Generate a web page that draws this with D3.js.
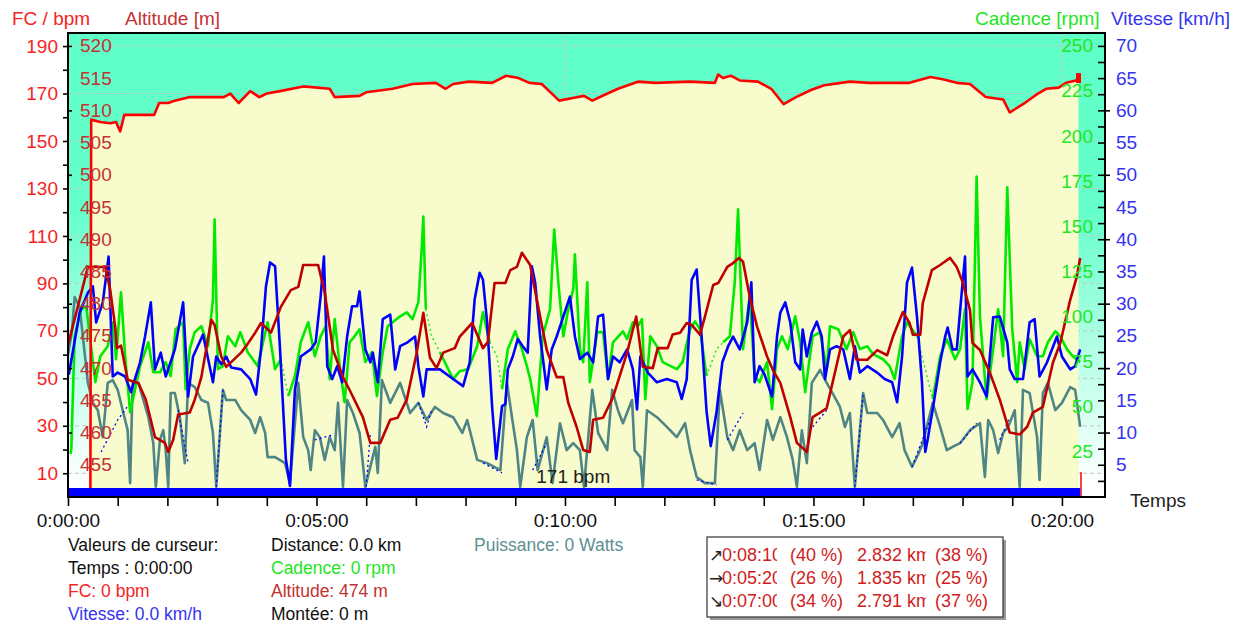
<!DOCTYPE html>
<html>
<head>
<meta charset="utf-8">
<script src="https://cdn.jsdelivr.net/npm/d3@7"></script>
<style>
  html, body { margin: 0; padding: 0; background: #ffffff; }
  svg { display: block; font-family: "Liberation Sans", Arial, Helvetica, sans-serif; }
</style>
</head>
<body>
<svg id="chart" width="1243" height="624"></svg>
<script>
// ---- Recorded session: [seconds, value] ----
const heartRate = [[27,0],[28,159],[39,158],[51,157.5],[58,158],[63,154],[68,161],[104,161],[110,166],[121,166],[129,167],[147,168.5],[188,168.5],[196,170],[206,166],[220,171],[231,168.5],[240,170],[256,171],[284,173],[316,172],[322,168.5],[352,169],[360,170.5],[392,172],[416,174],[444,174.5],[456,172],[465,174],[484,175],[512,174.5],[529,177.5],[544,176.5],[557,174.5],[572,174],[593,167],[608,168],[623,169],[633,167],[648,169.5],[664,172],[688,175],[709,174.5],[751,175],[781,174.5],[785,178],[791,176.5],[800,177.5],[811,175.5],[833,175],[849,172],[864,165.5],[879,168.5],[897,171.5],[913,173.5],[944,175],[968,174.5],[1016,174.5],[1041,177],[1056,176],[1073,174.5],[1089,174],[1108,168.5],[1129,167.5],[1137,162],[1153,165.5],[1169,169.5],[1181,172],[1196,172.5],[1205,174.5],[1217,175.5],[1220,176.5]];

const altitude = [[0,473.6],[14,480.6],[24,485.7],[45,485.7],[51,482.1],[57,476.4],[59,473.1],[64,473.5],[72,468.2],[85,467.7],[94,465.1],[105,459.3],[117,458.4],[121,457],[127,458.9],[133,462.8],[147,463.1],[153,465.1],[161,468.6],[173,477.5],[177,476.7],[185,471.8],[191,470.2],[209,472.4],[216,473.6],[226,475.5],[233,477],[245,475.5],[257,479.5],[269,482.1],[278,482.6],[284,486],[302,486],[310,481.7],[320,472.8],[332,468.6],[340,466.6],[356,462.4],[365,458.4],[377,458.4],[389,462],[398,462.3],[409,465.1],[421,472.4],[429,478.6],[437,471.6],[445,470],[453,472.4],[467,473.1],[473,474.9],[488,477],[501,473.1],[507,474.1],[515,483.2],[528,483.2],[534,485.2],[542,485.7],[548,487.9],[558,486],[566,480.6],[578,472.8],[590,468.6],[598,468.6],[604,464.6],[614,460.9],[622,457.3],[630,457],[634,462],[646,462.3],[658,465.5],[675,472.4],[686,478],[694,470.2],[706,470],[712,473.1],[724,473.1],[730,475.2],[739,475.5],[747,477],[753,476.7],[763,475.2],[769,478],[779,482.9],[785,483.2],[796,485.7],[803,486.3],[810,487.1],[815,486.5],[823,481.1],[832,476.4],[844,471.8],[851,469.7],[860,467.7],[872,462.4],[880,458.4],[892,457],[899,462.4],[908,463.1],[916,463.8],[923,467.7],[936,474.9],[944,475.9],[952,471.3],[965,471.3],[977,472.8],[989,472],[996,474.9],[1008,478.7],[1016,477],[1020,475.2],[1029,475.2],[1032,480.1],[1043,485.2],[1053,486],[1065,487.1],[1073,485.7],[1080,483.4],[1089,479],[1092,473.9],[1101,472.8],[1113,469.3],[1125,465.1],[1137,460],[1149,459.7],[1158,460.9],[1165,463.1],[1177,464],[1189,470.8],[1198,473.9],[1210,480.6],[1218,484.2],[1222,487.1]];

const cadence = [[3,24],[4,26.5],[8,89],[16,104],[22,105.6],[33,63.6],[39,78],[48,83.5],[54,96.8],[58,76.3],[64,113.4],[69,78],[75,47],[81,59.7],[87,72.5],[97,85.7],[103,69.1],[111,69.1],[118,74.7],[124,67],[130,93],[139,96.8],[142,59.7],[147,81.9],[153,91.3],[161,94.6],[169,83.5],[175,109.5],[177,153.8],[181,70.8],[187,72.5],[193,89],[202,83.5],[208,91.3],[217,80.2],[229,72.5],[241,96.8],[250,70.8],[257,76.3],[266,55.9],[274,67],[281,85.7],[290,96.8],[298,78],[305,89],[311,94.6],[316,65.3],[322,98.5],[328,72.5],[334,52.5],[340,85.7],[346,89],[352,92.9],[359,74.7],[367,80.2],[373,55.9],[380,80.2],[386,94.6],[401,100.1],[409,102.3],[416,98.5],[423,107.9],[427,137],[429,155.4],[432,104],[439,89],[449,80.2],[465,65.3],[473,69.7],[483,70.8],[494,83.5],[501,102.3],[509,85.7],[518,78],[524,59.7],[531,81.9],[540,91.8],[548,81.9],[554,72.5],[558,65.3],[566,44.8],[573,89],[582,104],[587,148.2],[592,118.9],[598,89],[604,104],[610,115],[612,134.4],[618,81.9],[622,74.7],[627,118.9],[630,63.6],[639,91.3],[646,91.3],[652,65.3],[658,85.7],[670,91.8],[675,87.4],[682,96.8],[688,94.6],[693,98.5],[697,54.2],[703,89],[711,83.5],[718,74.7],[735,70.8],[742,74.7],[751,92.9],[757,97.3],[763,92.9],[771,67],[783,81.9],[791,85.7],[799,89],[805,118.9],[809,159.3],[815,81.9],[823,111.2],[829,67],[835,63.6],[844,74.7],[850,48.7],[856,81.9],[862,89],[869,81.9],[878,100.1],[884,85.7],[890,58.1],[899,89],[908,91.3],[916,70.8],[920,94.6],[930,92.9],[940,81.9],[948,91.3],[956,81.9],[965,83.5],[972,79.1],[984,76.3],[992,72.5],[998,65.3],[1007,89],[1013,96.8],[1025,89],[1044,54.2],[1053,78],[1061,87.4],[1071,76.3],[1077,81.9],[1083,104],[1086,48.7],[1092,63.6],[1097,177.5],[1101,100.1],[1109,54.2],[1117,81.9],[1123,104],[1129,78],[1134,171.5],[1140,92.9],[1146,63.6],[1149,85.7],[1155,70.8],[1161,87.4],[1170,78],[1177,78],[1183,85.7],[1192,91.8],[1198,89],[1206,81.9],[1213,78],[1222,74.7]];

// cadence sensor dropouts, drawn as a thin dotted trace
const cadenceDropouts = [[257,266],[432,449],[509,524],[771,791],[1025,1044]];

const speed = [[1,19],[14,28.6],[24,31.7],[30,32.7],[34,27.1],[42,30.2],[49,37.3],[54,18.7],[60,19.3],[69,18.7],[76,16.3],[87,20.9],[93,24.9],[100,30.2],[105,19.8],[112,22.4],[118,18.7],[129,22.9],[139,30.2],[145,15.6],[151,21.8],[163,25.2],[171,20.3],[175,17.8],[179,21.8],[185,20.6],[191,21.8],[197,20.1],[209,19.8],[220,18.3],[227,15.9],[233,22.9],[239,32.7],[244,36.4],[250,35.8],[256,22.9],[263,5.9],[268,1.7],[274,16.7],[281,21.8],[293,22.9],[299,24],[305,31.1],[309,37.3],[313,20.3],[319,18.3],[325,20.3],[331,17.8],[337,24.9],[343,29.6],[349,29.6],[352,31.9],[359,22.9],[365,20.9],[368,22.4],[374,17.8],[380,27.6],[389,28.3],[395,19.8],[401,23.4],[410,24],[419,24.9],[423,20.3],[429,15.6],[433,19.8],[449,19.8],[465,18.3],[477,17.2],[485,20.9],[491,30.7],[497,34.8],[501,33.7],[506,27.1],[512,14.1],[517,5.9],[524,14.1],[528,14.4],[531,19.8],[537,21.8],[543,24.5],[549,23.4],[555,22.4],[560,35.8],[564,33.3],[570,24.9],[578,16.7],[584,22.9],[590,24.9],[598,28],[606,31.1],[612,24.9],[618,21.4],[627,22.4],[634,20.9],[640,28],[646,28.3],[652,18.3],[658,21.8],[666,20.9],[675,22.9],[682,19.8],[687,13.6],[691,21.8],[700,19.3],[711,17.8],[723,18.3],[735,17.8],[741,15.2],[747,18.3],[753,33.7],[759,35.3],[765,24.9],[771,13.2],[776,7.9],[783,13.2],[790,20.9],[797,23.4],[803,24.9],[811,22.9],[820,27.1],[825,33.3],[829,17.8],[835,20.3],[841,19],[850,15.6],[856,24.9],[860,28.6],[866,30.2],[872,27.1],[878,20.9],[884,19.8],[887,26],[892,21.8],[898,25.5],[904,27.2],[910,24.9],[914,18.3],[920,22.9],[928,23.4],[936,22.9],[944,18.3],[950,23.4],[956,19.3],[965,20.3],[977,19.3],[986,18.3],[995,17.8],[1001,14.7],[1007,21.8],[1013,33.3],[1019,35.6],[1025,28],[1031,17.8],[1035,7],[1038,9],[1044,13.6],[1053,20.9],[1059,24.9],[1062,26.3],[1068,22.9],[1073,22.9],[1079,31.7],[1083,37.3],[1086,18.7],[1092,19.8],[1101,17.8],[1109,15.6],[1117,27.9],[1125,28],[1134,24],[1137,19.8],[1143,18.3],[1153,18.3],[1161,27.1],[1167,27.6],[1173,18.7],[1182,20.9],[1194,24.9],[1200,21.8],[1210,19.8],[1216,20.3],[1222,22.9]];

const power = [[0,306],[5,360],[8,431],[14,409],[18,345],[24,246],[30,203],[36,187],[42,129],[48,246],[54,252],[60,231],[66,187],[72,144],[75,30],[78,246],[85,246],[97,172],[103,116],[106,22],[111,123],[115,144],[118,101],[121,22],[124,224],[129,224],[135,172],[141,73],[145,246],[153,237],[161,209],[169,203],[175,138],[179,22],[187,231],[191,209],[202,209],[209,187],[220,166],[226,138],[232,172],[238,138],[241,86],[250,86],[262,73],[268,30],[278,246],[284,129],[290,101],[293,58],[298,144],[304,129],[310,80],[316,129],[322,101],[326,203],[332,22],[337,209],[344,181],[352,138],[359,22],[371,108],[374,52],[379,252],[389,203],[401,246],[413,181],[423,203],[433,166],[443,194],[453,181],[465,172],[476,138],[482,166],[494,80],[506,73],[522,58],[525,129],[530,246],[536,172],[542,101],[546,22],[554,129],[561,166],[567,58],[578,129],[585,30],[594,159],[602,101],[610,116],[618,101],[623,22],[633,231],[640,138],[651,101],[657,231],[664,187],[670,159],[681,209],[684,101],[691,86],[694,22],[699,187],[711,172],[723,151],[735,129],[745,159],[751,101],[759,43],[769,30],[781,30],[787,231],[796,129],[803,101],[811,144],[820,101],[829,116],[835,58],[844,166],[851,123],[860,172],[868,129],[875,80],[880,22],[886,144],[892,73],[898,246],[908,274],[916,246],[923,224],[932,194],[938,151],[944,181],[950,22],[960,224],[965,181],[977,181],[984,166],[995,129],[1004,159],[1010,101],[1019,65],[1026,90],[1032,116],[1044,203],[1053,151],[1061,101],[1068,108],[1077,116],[1089,144],[1101,159],[1107,43],[1111,166],[1117,144],[1123,95],[1129,138],[1135,151],[1143,187],[1149,22],[1153,231],[1161,224],[1170,129],[1173,37],[1177,224],[1183,246],[1192,187],[1200,203],[1210,237],[1216,231],[1222,151]];

// power estimated across sensor dropouts (dotted)
const powerEstimated = [
  [[40,97],[60,166],[75,203]],
  [[133,187],[145,73]],
  [[179,22],[187,231]],
  [[298,123],[320,134]],
  [[360,22],[365,138]],
  [[423,203],[433,151],[439,187]],
  [[501,73],[524,52]],
  [[561,58],[578,116]],
  [[759,37],[783,26]],
  [[796,123],[815,181]],
  [[899,151],[916,187]],
  [[950,22],[960,224]],
  [[1019,65],[1044,181]],
  [[1077,116],[1097,159]],
  [[1125,123],[1137,172]]
];

// selected lap range (s) and the end-of-recording marker
const lapRange = [0, 1222];
const endMarker = [[1223, 10.5]];
const averageHeartRate = 171;

// axis tick values
const fcLabels = d3.range(10, 191, 20);
const altLabels = d3.range(455, 521, 5);
const cadLabels = d3.range(25, 251, 25);
const speedLabels = d3.range(5, 71, 5);
const timeLabels = d3.range(0, 1201, 300);

// cursor readout
const cursorCol1 = ["Valeurs de curseur:", "Temps : 0:00:00", "FC: 0 bpm", "Vitesse: 0.0 km/h"];
const cursorCol2 = ["Distance: 0.0 km", "Cadence: 0 rpm", "Altitude: 474 m", "Montée: 0 m"];
const cursorCol3 = ["Puissance: 0 Watts"];

// climbing / flat / descending breakdown
const slopeArrows = ["\u2197", "\u2192", "\u2198"];
const slopeSeconds = [490, 320, 420];
const slopeTimePct = [40, 26, 34];
const slopeKm = [2.832, 1.835, 2.791];
const slopeKmPct = [38, 25, 37];

// ---- colours ----
const C = {
  fc: "#ff0000", fcText: "#f42424",
  alt: "#c00000", altText: "#c23232",
  cad: "#00ea00", cadText: "#22e622",
  spd: "#0000ff", spdText: "#3434f0",
  pow: "#4f8585", powText: "#5c9090",
  sky: "#60ffc8", fill: "#f8fccc", grid: "#c4c4c4"
};

const svg = d3.select("#chart");
const P = { left: 68, right: 1105, top: 33, bottom: 497 };

const x = d3.scaleLinear([0, 1252], [P.left, P.right]);
const yFc = d3.scaleLinear([0, 195.5], [P.bottom, P.top]);
const yAlt = d3.scaleLinear([450, 522], [P.bottom, P.top]);
const yCad = d3.scaleLinear([0, 257], [P.bottom, P.top]);
const ySpd = d3.scaleLinear([0, 72], [P.bottom, P.top]);
const yPow = d3.scaleLinear([0, 1000], [P.bottom, P.top]);

const fmtTime = s => {
  const h = Math.floor(s / 3600), m = Math.floor(s / 60) % 60, ss = Math.round(s % 60);
  return `${h}:${String(m).padStart(2, "0")}:${String(ss).padStart(2, "0")}`;
};

const defs = svg.append("defs");
const grad = defs.append("linearGradient").attr("id", "sky").attr("x1", 0).attr("y1", 0).attr("x2", 0).attr("y2", 1);
grad.append("stop").attr("offset", "0%").attr("stop-color", C.sky);
grad.append("stop").attr("offset", "38%").attr("stop-color", "#64ffca");
grad.append("stop").attr("offset", "97%").attr("stop-color", "#ffffff");
defs.append("clipPath").attr("id", "plotClip").append("rect")
  .attr("x", P.left).attr("y", P.top).attr("width", P.right - P.left).attr("height", P.bottom - P.top);

// background
svg.append("rect").attr("x", P.left).attr("y", P.top).attr("width", P.right - P.left)
  .attr("height", P.bottom - P.top).attr("fill", "url(#sky)");

const plot = svg.append("g").attr("clip-path", "url(#plotClip)");

// grid
plot.append("g").selectAll("line").data(fcLabels).join("line")
  .attr("x1", P.left).attr("x2", P.right).attr("y1", d => yFc(d)).attr("y2", d => yFc(d))
  .attr("stroke", C.grid).attr("stroke-dasharray", "4,3");
plot.append("g").selectAll("line").data([600, 1200]).join("line")
  .attr("x1", d => x(d)).attr("x2", d => x(d)).attr("y1", P.top).attr("y2", P.bottom)
  .attr("stroke", C.grid).attr("stroke-dasharray", "4,3");

// heart-rate area
plot.append("path").datum(heartRate)
  .attr("d", d3.area().x(d => x(d[0])).y0(yFc(0)).y1(d => yFc(d[1])))
  .attr("fill", C.fill);

function splitByGaps(points, gaps) {
  const solid = [], dotted = [];
  let cur = null, curType = null;
  for (let i = 0; i < points.length - 1; i++) {
    const a = points[i], b = points[i + 1];
    const inGap = gaps.some(([s, e]) => a[0] >= s && b[0] <= e);
    const type = inGap ? "dotted" : "solid";
    if (type !== curType) { cur = [a]; (inGap ? dotted : solid).push(cur); curType = type; }
    cur.push(b);
  }
  return { solid, dotted };
}

const lineOf = y => d3.line().x(d => x(d[0])).y(d => y(d[1]));

// power
plot.append("path").datum(power).attr("d", lineOf(yPow))
  .attr("fill", "none").attr("stroke", C.pow).attr("stroke-width", 2.6).attr("stroke-linejoin", "round");
plot.append("g").selectAll("path").data(powerEstimated).join("path")
  .attr("d", lineOf(yPow)).attr("fill", "none").attr("stroke", C.spd)
  .attr("stroke-width", 1.3).attr("stroke-dasharray", "2,3");

// cadence
const cadParts = splitByGaps(cadence, cadenceDropouts);
plot.append("g").selectAll("path").data(cadParts.solid).join("path")
  .attr("d", lineOf(yCad)).attr("fill", "none").attr("stroke", C.cad)
  .attr("stroke-width", 2.6).attr("stroke-linejoin", "round");
plot.append("g").selectAll("path").data(cadParts.dotted).join("path")
  .attr("d", lineOf(yCad)).attr("fill", "none").attr("stroke", C.cad)
  .attr("stroke-width", 1.3).attr("stroke-dasharray", "2,3");

// speed
plot.append("path").datum(speed).attr("d", lineOf(ySpd))
  .attr("fill", "none").attr("stroke", C.spd).attr("stroke-width", 2.6).attr("stroke-linejoin", "round");

// altitude
plot.append("path").datum(altitude).attr("d", lineOf(yAlt))
  .attr("fill", "none").attr("stroke", C.alt).attr("stroke-width", 2.6).attr("stroke-linejoin", "round");

// heart rate
plot.append("path").datum(heartRate).attr("d", lineOf(yFc))
  .attr("fill", "none").attr("stroke", C.fc).attr("stroke-width", 2.6).attr("stroke-linejoin", "round");
const last = heartRate[heartRate.length - 1];
plot.append("rect").attr("x", x(last[0]) - 2.5).attr("y", yFc(last[1]) - 5)
  .attr("width", 5).attr("height", 10).attr("fill", C.fc);
plot.append("g").selectAll("line").data(endMarker).join("line")
  .attr("x1", d => x(d[0])).attr("x2", d => x(d[0])).attr("y1", yFc(0)).attr("y2", d => yFc(d[1]))
  .attr("stroke", C.fc).attr("stroke-width", 1.5);

// lap bar
plot.append("rect").attr("x", x(lapRange[0])).attr("y", P.bottom - 9)
  .attr("width", x(lapRange[1]) - x(lapRange[0])).attr("height", 8).attr("fill", C.spd);

// average heart-rate caption
svg.append("text").attr("x", x(610)).attr("y", 483).attr("text-anchor", "middle")
  .attr("font-size", 19).attr("fill", "#222").text(`${averageHeartRate} bpm`);

// frame
svg.append("rect").attr("x", P.left).attr("y", P.top).attr("width", P.right - P.left)
  .attr("height", P.bottom - P.top).attr("fill", "none").attr("stroke", "#000").attr("stroke-width", 2);

function styleAxis(g, color, size) {
  g.attr("font-family", null).attr("font-size", null);
  g.select(".domain").remove();
  g.selectAll(".tick line").attr("stroke", "#000").attr("stroke-width", 1.6);
  g.selectAll(".tick text").attr("fill", color).style("font-size", size + "px");
}

// left: heart rate
svg.append("g").attr("transform", `translate(${P.left},0)`)
  .call(d3.axisLeft(yFc).tickValues(d3.range(10, 191, 10)).tickSize(5).tickPadding(5)
    .tickFormat(d => (d % 20 === 10 ? d : "")))
  .call(g => styleAxis(g, C.fcText, 19));
// left: altitude ticks and labels inside the frame
svg.append("g").attr("transform", `translate(${P.left},0)`)
  .call(d3.axisRight(yAlt).tickValues(d3.range(460, 521, 10)).tickSize(4).tickFormat(""))
  .call(g => styleAxis(g, C.altText, 19));
svg.append("g").attr("transform", `translate(${P.left},0)`)
  .call(d3.axisRight(yAlt).tickValues(altLabels).tickSize(0).tickPadding(12))
  .call(g => styleAxis(g, C.altText, 19));

// right: speed ticks, labels outside; cadence labels inside
svg.append("g").attr("transform", `translate(${P.right},0)`)
  .call(d3.axisLeft(ySpd).tickValues(d3.range(2.5, 71, 2.5)).tickSize(7).tickFormat(""))
  .call(g => styleAxis(g, C.spdText, 19));
svg.append("g").attr("transform", `translate(${P.right},0)`)
  .call(d3.axisRight(ySpd).tickValues(d3.range(10, 61, 10)).tickSize(5).tickFormat(""))
  .call(g => styleAxis(g, C.spdText, 19));
svg.append("g").attr("transform", `translate(${P.right},0)`)
  .call(d3.axisRight(ySpd).tickValues(speedLabels).tickSize(0).tickPadding(11))
  .call(g => styleAxis(g, C.spdText, 19));
svg.append("g").attr("transform", `translate(${P.right},0)`)
  .call(d3.axisLeft(yCad).tickValues(cadLabels).tickSize(0).tickPadding(12))
  .call(g => styleAxis(g, C.cadText, 19));

// bottom: time
svg.append("g").attr("transform", `translate(0,${P.bottom})`)
  .call(d3.axisBottom(x).tickValues(d3.range(0, 1252, 60)).tickSize(9).tickPadding(8)
    .tickFormat(d => (timeLabels.includes(d) ? fmtTime(d) : "")))
  .call(g => styleAxis(g, "#111", 19));
svg.append("text").attr("x", 1130).attr("y", 507).attr("font-size", 19).attr("fill", "#222").text("Temps");

// axis titles
const titles = [
  { t: "FC / bpm", x: 12, c: C.fcText },
  { t: "Altitude [m]", x: 125, c: C.altText },
  { t: "Cadence [rpm]", x: 975, c: C.cadText },
  { t: "Vitesse [km/h]", x: 1111, c: C.spdText }
];
svg.append("g").selectAll("text").data(titles).join("text")
  .attr("x", d => d.x).attr("y", 25).attr("font-size", 19).attr("fill", d => d.c).text(d => d.t);

// cursor readout
const col1Colors = ["#111", "#111", C.fcText, C.spdText];
const col2Colors = ["#111", C.cadText, C.altText, "#111"];
const rowY = i => 551 + i * 23;
svg.append("g").selectAll("text").data(cursorCol1).join("text")
  .attr("x", 68).attr("y", (d, i) => rowY(i)).attr("font-size", 17.5)
  .attr("fill", (d, i) => col1Colors[i]).text(d => d);
svg.append("g").selectAll("text").data(cursorCol2).join("text")
  .attr("x", 271).attr("y", (d, i) => rowY(i)).attr("font-size", 17.5)
  .attr("fill", (d, i) => col2Colors[i]).text(d => d);
svg.append("g").selectAll("text").data(cursorCol3).join("text")
  .attr("x", 474).attr("y", (d, i) => rowY(i)).attr("font-size", 17.5)
  .attr("fill", C.powText).text(d => d);

// slope breakdown box
const box = { x: 707, y: 537, w: 296, h: 80 };
svg.append("rect").attr("x", box.x + 3).attr("y", box.y + 3).attr("width", box.w).attr("height", box.h).attr("fill", "#9a9a9a");
svg.append("rect").attr("x", box.x).attr("y", box.y).attr("width", box.w).attr("height", box.h)
  .attr("fill", "#fff").attr("stroke", "#333").attr("stroke-width", 1.2);
const cols = [
  { x: 722, w: 55, text: i => fmtTime(slopeSeconds[i]) },
  { x: 790, w: 62, text: i => `(${slopeTimePct[i]} %)` },
  { x: 857, w: 69, text: i => `${slopeKm[i].toFixed(3)} km` },
  { x: 935, w: 62, text: i => `(${slopeKmPct[i]} %)` }
];
cols.forEach((c, ci) => {
  defs.append("clipPath").attr("id", "col" + ci).append("rect")
    .attr("x", c.x).attr("y", box.y).attr("width", c.w).attr("height", box.h);
});
slopeArrows.forEach((a, i) => {
  const yb = 561 + i * 23;
  svg.append("text").attr("x", 709).attr("y", yb).attr("font-size", 17).attr("fill", "#222")
    .attr("font-family", "DejaVu Sans, sans-serif").text(a);
  cols.forEach((c, ci) => {
    svg.append("text").attr("x", c.x).attr("y", yb).attr("font-size", 18)
      .attr("fill", "#d01c1c").attr("clip-path", `url(#col${ci})`).text(c.text(i));
  });
});
</script>
</body>
</html>
